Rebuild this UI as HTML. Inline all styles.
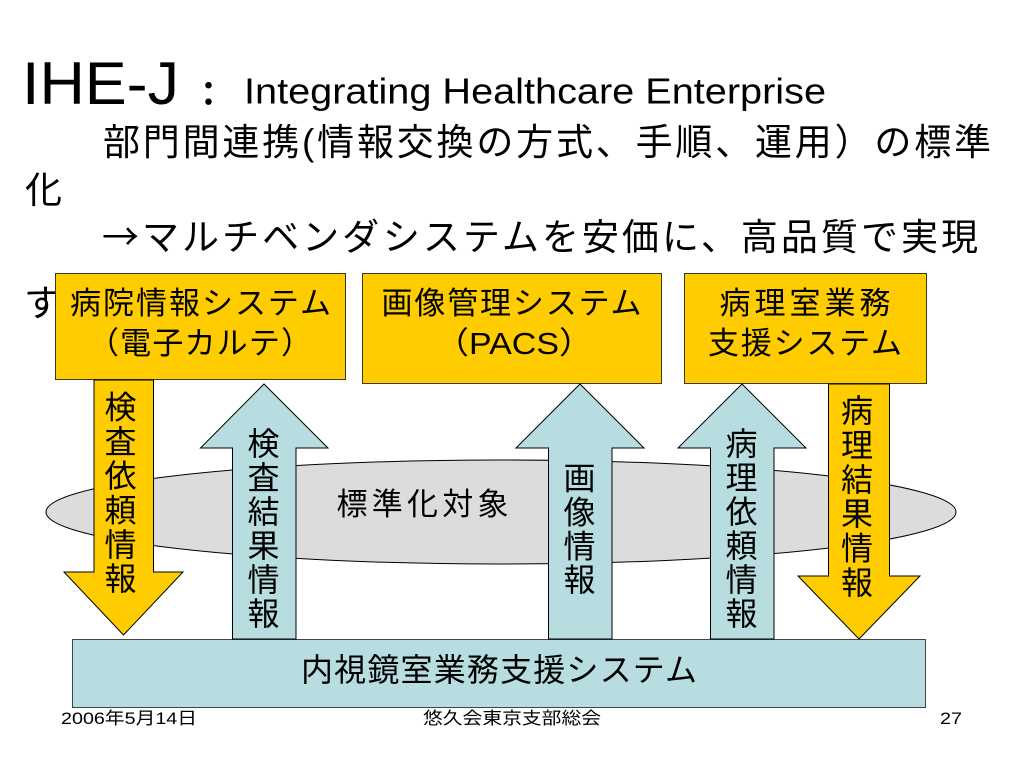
<!DOCTYPE html>
<html><head><meta charset="utf-8">
<style>
html,body{margin:0;padding:0;background:#fff;width:1024px;height:768px;overflow:hidden}
svg{display:block}
text{font-family:"Liberation Sans","Noto Sans CJK JP",sans-serif;fill:#000}
.s{font-size:31px;text-anchor:middle}
.v{font-size:32px;text-anchor:middle}
.t{font-size:37px}
.f{font-size:17px}
</style></head><body>
<svg width="1024" height="768" viewBox="0 0 1024 768" xmlns="http://www.w3.org/2000/svg">
<text x="22" y="104" style="font-size:60px" textLength="157" lengthAdjust="spacingAndGlyphs">IHE-J</text>
<text x="191.500" y="106" style="font-size:34px;font-weight:bold">：</text>
<text x="244" y="103.500" style="font-size:36px" textLength="582" lengthAdjust="spacingAndGlyphs">Integrating Healthcare Enterprise</text>
<text x="103" y="155" class="t" textLength="888" lengthAdjust="spacing">部門間連携(情報交換の方式、手順、運用）の標準</text>
<text x="25" y="203" class="t">化</text>
<text x="102" y="250" class="t" textLength="876" lengthAdjust="spacing"><tspan style="font-family:'Noto Sans CJK JP',sans-serif">→</tspan>マルチベンダシステムを安価に、高品質で実現</text>
<text x="24" y="316" class="t">す</text>

<ellipse cx="501" cy="512" rx="455" ry="52" fill="#dcdcdc" stroke="#000" stroke-width="1"/>

<g stroke="#3a3a1a" stroke-width="1" fill="#ffcc00">
<rect x="55.500" y="273.500" width="290" height="106"/>
<rect x="362.500" y="273.500" width="299" height="110"/>
<rect x="684.500" y="273.500" width="242" height="110"/>
</g>
<g stroke="#000" stroke-width="1" fill="#ffcc00">
<polygon points="94,380 153.500,380 153.500,572 183,572 123.500,635 64,572 94,572"/>
<polygon points="828.500,384 889.500,384 889.500,576 920,576 859,639 798,576 828.500,576"/>
</g>
<rect x="72.500" y="639.500" width="853" height="68" fill="#b7dde1" stroke="#444" stroke-width="1"/>
<g stroke="#000" stroke-width="1" fill="#b7dde1">
<polygon points="264,384 328,448 296,448 296,639 232.500,639 232.500,448 200.500,448"/>
<polygon points="580,384 644,448 612,448 612,639 548.500,639 548.500,448 516,448"/>
<polygon points="742,384 806,448 774,448 774,639 710.500,639 710.500,448 678,448"/>
</g>

<text x="200.500" y="314" class="s" textLength="261" lengthAdjust="spacing">病院情報システム</text>
<text x="200" y="354" class="s" textLength="224" lengthAdjust="spacing">（電子カルテ）</text>
<text x="511.500" y="314" class="s" textLength="260" lengthAdjust="spacing">画像管理システム</text>
<text x="514" y="354" class="s" textLength="158" lengthAdjust="spacingAndGlyphs">（PACS）</text>
<text x="805" y="314" class="s" textLength="171" lengthAdjust="spacing">病理室業務</text>
<text x="805" y="354" class="s" textLength="194" lengthAdjust="spacing">支援システム</text>
<text x="422.500" y="515" class="s" textLength="172" lengthAdjust="spacing">標準化対象</text>
<text x="499" y="681" class="s" style="font-size:32px" textLength="396" lengthAdjust="spacing">内視鏡室業務支援システム</text>

<text x="120.500" y="418.500" class="v">検</text>
<text x="120.500" y="453" class="v">査</text>
<text x="120.500" y="487" class="v">依</text>
<text x="120.500" y="521.500" class="v">頼</text>
<text x="120.500" y="556" class="v">情</text>
<text x="120.500" y="590" class="v">報</text>

<text x="263.500" y="455" class="v">検</text>
<text x="263.500" y="489" class="v">査</text>
<text x="263.500" y="523" class="v">結</text>
<text x="263.500" y="557" class="v">果</text>
<text x="263.500" y="591" class="v">情</text>
<text x="263.500" y="625" class="v">報</text>

<text x="579.500" y="489.500" class="v">画</text>
<text x="579.500" y="523.500" class="v">像</text>
<text x="579.500" y="557.500" class="v">情</text>
<text x="579.500" y="591" class="v">報</text>

<text x="741.500" y="455" class="v">病</text>
<text x="741.500" y="489" class="v">理</text>
<text x="741.500" y="523" class="v">依</text>
<text x="741.500" y="557" class="v">頼</text>
<text x="741.500" y="591" class="v">情</text>
<text x="741.500" y="625" class="v">報</text>

<text x="857" y="422" class="v">病</text>
<text x="857" y="456.500" class="v">理</text>
<text x="857" y="491" class="v">結</text>
<text x="857" y="525" class="v">果</text>
<text x="857" y="559.500" class="v">情</text>
<text x="857" y="594" class="v">報</text>

<text x="61" y="724" class="f" textLength="136" lengthAdjust="spacingAndGlyphs">2006年5月14日</text>
<text x="423" y="724" class="f" textLength="178" lengthAdjust="spacingAndGlyphs">悠久会東京支部総会</text>
<text x="940" y="724" class="f" textLength="22" lengthAdjust="spacingAndGlyphs">27</text>
</svg>
</body></html>
